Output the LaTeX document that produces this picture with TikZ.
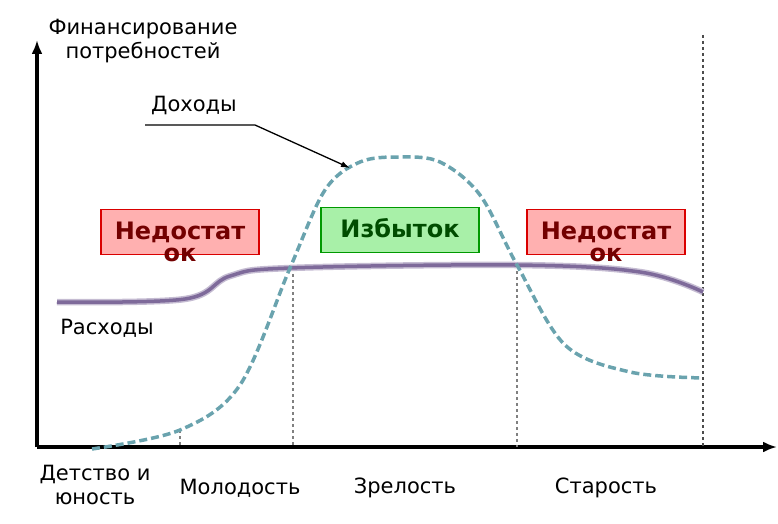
\documentclass[tikz,border=0pt]{standalone}
\usepackage{fontspec}
\setmainfont{DejaVu Sans}
\usetikzlibrary{arrows.meta}
\definecolor{inc}{HTML}{6AA3AE}
\definecolor{exp}{HTML}{7E6A9A}
\definecolor{redfill}{HTML}{FFB0B0}
\definecolor{greenfill}{HTML}{A8F0A8}
\tikzset{
  lbl/.style={font=\fontsize{21}{24}\selectfont, align=center, inner sep=0},
  boxr/.style={draw=red!85!black, fill=redfill, line width=1.4pt, minimum width=158, minimum height=45, inner sep=0, align=center, font=\bfseries\fontsize{24}{22}\selectfont, text=red!45!black},
  boxg/.style={draw=green!60!black, fill=greenfill, line width=1.4pt, minimum width=158, minimum height=45, inner sep=0, align=center, font=\bfseries\fontsize{24}{22}\selectfont, text=green!30!black},
  guide/.style={gray, dashed, line width=1.5pt}
}
\begin{document}
\begin{tikzpicture}[x=1pt,y=-1pt]
\useasboundingbox (0,0) rectangle (778,524);
% axes
\coordinate (o) at (37,447);
\coordinate (ytop) at (37,40);
\coordinate (xend) at (777,447);
\draw[line width=3.5pt,-{Latex[length=14pt,width=11pt]}] (o) -- (ytop);
\draw[line width=3.5pt,-{Latex[length=14pt,width=11pt]}] (o) -- (xend);
% right dashed line
\coordinate (d1) at (703,35);
\coordinate (d2) at (703,447);
\draw[dashed, line width=1.3pt, black!70] (d1) -- (d2);
% guides
\coordinate (g1a) at (180,430); \coordinate (g1b) at (180,447);
\coordinate (g2a) at (293,268); \coordinate (g2b) at (293,447);
\coordinate (g3a) at (517,265); \coordinate (g3b) at (517,447);
\draw[guide] (g1a) -- (g1b);
\draw[guide] (g2a) -- (g2b);
\draw[guide] (g3a) -- (g3b);
% expenses
\draw[exp!45, line width=6.5pt] plot[smooth, tension=0.6] coordinates {(57,302) (185,299) (230,276) (290,268) (515,265) (640,272) (703,292)};
\draw[exp, line width=3.5pt] plot[smooth, tension=0.6] coordinates {(57,302) (185,299) (230,276) (290,268) (515,265) (640,272) (703,292)};
% income
\draw[inc, line width=3.5pt, dash pattern=on 8pt off 4pt] plot[smooth, tension=0.55] coordinates {(92,449) (180,430) (240,385) (290,268) (325,190) (360,162) (400,157) (440,162) (480,195) (517,265) (565,345) (630,372) (703,378)};
% boxes
\node[boxr] (b1) at (180,232) {};
\node[boxg] (b2) at (400,230) {};
\node[boxr] (b3) at (606,232) {};
\node[boxr, draw=none, fill=none, anchor=north] (t1) at (180,219) {Недостат\\ок};
\node[boxg, draw=none, fill=none] (t2) at (400,228) {Избыток};
\node[boxr, draw=none, fill=none, anchor=north] (t3) at (606,219) {Недостат\\ок};
% labels
\node[lbl] (fin) at (143,41) {Финансирование\\потребностей};
\node[lbl] (doh) at (194,105) {Доходы};
\coordinate (ds) at (145,125);
\coordinate (dk) at (255,125);
\coordinate (de) at (350,168);
\draw[line width=1.3pt,-{Latex[length=9pt,width=6pt]}] (ds) -- (dk) -- (de);
\node[lbl] (ras) at (107,328) {Расходы};
\node[lbl] (l1) at (95,485) {Детство и\\юность};
\node[lbl] (l2) at (240,488) {Молодость};
\node[lbl] (l3) at (405,488) {Зрелость};
\node[lbl] (l4) at (606,488) {Старость};
\end{tikzpicture}
\end{document}
